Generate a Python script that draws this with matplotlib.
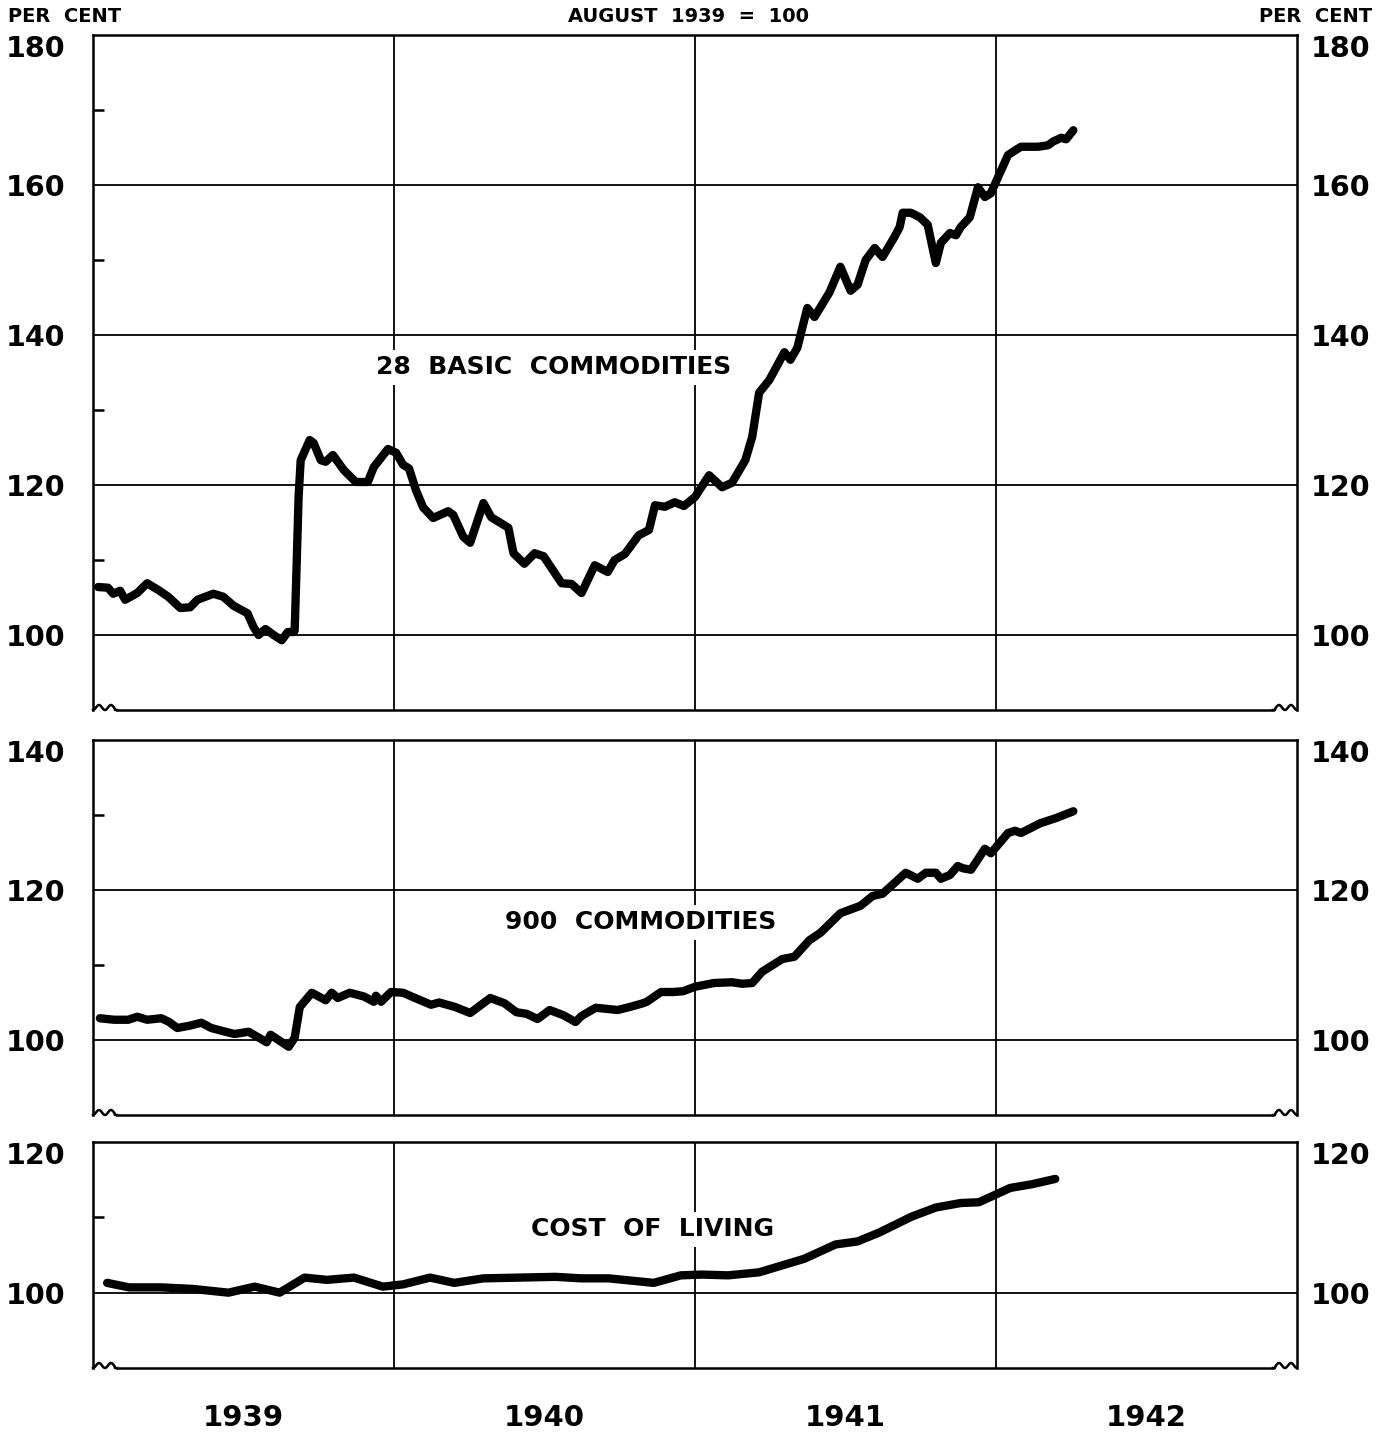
import matplotlib
matplotlib.use("Agg")
import matplotlib.pyplot as plt
import numpy as np

plt.rcParams['font.family'] = ['DejaVu Sans']
plt.rcParams['font.weight'] = 'bold'

# ---------------- data (years since Jan 1939, index values, Aug 1939 = 100) ----
basic_t = [0.017, 0.050, 0.067, 0.090, 0.107, 0.147, 0.180, 0.217, 0.250, 0.290,
           0.323, 0.347, 0.400, 0.433, 0.467, 0.513, 0.533, 0.550, 0.573, 0.600,
           0.627, 0.647, 0.667, 0.670, 0.677, 0.683, 0.690, 0.720, 0.733, 0.757,
           0.773, 0.797, 0.833, 0.873, 0.913, 0.933, 0.980, 1.007, 1.030, 1.050,
           1.073, 1.097, 1.130, 1.180, 1.197, 1.230, 1.253, 1.297, 1.323, 1.380,
           1.397, 1.433, 1.467, 1.497, 1.557, 1.590, 1.623, 1.667, 1.710, 1.733,
           1.767, 1.813, 1.847, 1.867, 1.900, 1.933, 1.963, 2.000, 2.047, 2.090,
           2.123, 2.167, 2.190, 2.213, 2.247, 2.297, 2.317, 2.340, 2.373, 2.397,
           2.447, 2.483, 2.517, 2.540, 2.567, 2.597, 2.623, 2.663, 2.680, 2.690,
           2.717, 2.747, 2.773, 2.800, 2.817, 2.847, 2.867, 2.883, 2.913, 2.940,
           2.963, 2.983, 3.013, 3.040, 3.063, 3.083, 3.140, 3.173, 3.190, 3.217,
           3.233, 3.257]
basic_v = [106.4, 106.3, 105.5, 105.9, 104.7, 105.6, 106.9, 106.0, 105.1, 103.6,
           103.7, 104.7, 105.5, 105.1, 103.9, 102.9, 101.1, 100.0, 100.8, 100.0,
           99.3, 100.4, 100.4, 100.6, 110.0, 118.4, 123.3, 126.0, 125.6, 123.3,
           123.1, 124.0, 122.0, 120.4, 120.4, 122.4, 124.8, 124.3, 122.7, 122.2,
           119.3, 117.0, 115.6, 116.5, 116.0, 113.1, 112.3, 117.6, 115.7, 114.3,
           110.9, 109.5, 110.9, 110.5, 106.9, 106.8, 105.6, 109.3, 108.4, 110.0,
           110.8, 113.3, 114.0, 117.3, 117.1, 117.7, 117.2, 118.4, 121.3, 119.7,
           120.3, 123.3, 126.4, 132.3, 134.0, 137.7, 136.7, 138.3, 143.6, 142.4,
           145.7, 149.1, 145.9, 146.7, 150.0, 151.6, 150.4, 153.1, 154.4, 156.3,
           156.3, 155.7, 154.7, 149.6, 152.3, 153.6, 153.3, 154.4, 155.7, 159.7,
           158.4, 158.9, 161.6, 164.0, 164.6, 165.1, 165.1, 165.3, 165.8, 166.3,
           166.1, 167.3]

all_t = [0.023, 0.070, 0.117, 0.147, 0.180, 0.227, 0.253, 0.280, 0.320, 0.360,
         0.393, 0.430, 0.470, 0.517, 0.577, 0.590, 0.650, 0.670, 0.687, 0.727,
         0.773, 0.793, 0.813, 0.853, 0.900, 0.933, 0.940, 0.957, 0.990, 1.030,
         1.070, 1.123, 1.150, 1.203, 1.253, 1.320, 1.367, 1.407, 1.440, 1.477,
         1.517, 1.563, 1.603, 1.623, 1.670, 1.743, 1.783, 1.827, 1.840, 1.887,
         1.927, 1.960, 2.000, 2.063, 2.123, 2.157, 2.190, 2.223, 2.290, 2.330,
         2.380, 2.417, 2.483, 2.550, 2.590, 2.623, 2.667, 2.700, 2.740, 2.767,
         2.800, 2.817, 2.847, 2.873, 2.890, 2.917, 2.963, 2.983, 3.040, 3.063,
         3.083, 3.147, 3.200, 3.257]
all_v = [102.9, 102.7, 102.7, 103.1, 102.7, 102.9, 102.4, 101.6, 101.9, 102.3,
         101.6, 101.2, 100.8, 101.1, 99.7, 100.7, 99.1, 100.3, 104.4, 106.3,
         105.3, 106.3, 105.6, 106.3, 105.8, 105.1, 105.9, 105.1, 106.4, 106.3,
         105.6, 104.7, 105.0, 104.4, 103.6, 105.6, 104.9, 103.7, 103.5, 102.8,
         104.0, 103.3, 102.4, 103.2, 104.3, 104.0, 104.4, 104.9, 105.1, 106.4,
         106.4, 106.5, 107.1, 107.6, 107.7, 107.5, 107.6, 109.1, 110.8, 111.1,
         113.3, 114.3, 116.9, 117.9, 119.2, 119.5, 121.1, 122.3, 121.5, 122.3,
         122.3, 121.5, 122.0, 123.2, 122.9, 122.7, 125.5, 124.9, 127.6, 127.9,
         127.6, 128.9, 129.6, 130.5]

col_t = [0.047, 0.120, 0.227, 0.330, 0.450, 0.537, 0.620, 0.703, 0.777, 0.867,
         0.963, 1.030, 1.120, 1.200, 1.297, 1.417, 1.537, 1.623, 1.713, 1.863,
         1.953, 2.023, 2.110, 2.213, 2.363, 2.467, 2.540, 2.613, 2.720, 2.800,
         2.883, 2.943, 3.047, 3.120, 3.197]
col_v = [101.3, 100.7, 100.7, 100.5, 100.0, 100.8, 100.0, 102.0, 101.7, 102.0,
         100.8, 101.1, 102.0, 101.3, 101.9, 102.0, 102.1, 101.9, 101.9, 101.3,
         102.3, 102.4, 102.3, 102.7, 104.5, 106.4, 106.8, 108.0, 110.1, 111.3,
         111.9, 112.0, 113.9, 114.4, 115.1]

years = [1939, 1940, 1941, 1942]
series_labels = ["28  BASIC  COMMODITIES", "900  COMMODITIES", "COST  OF  LIVING"]

# ---------------- figure -------------------------------------------------------
W, H = 1393, 1433
fig = plt.figure(figsize=(W / 100, H / 100), dpi=100)

left = 93 / W
width = (1297 - 93) / W
panels = [  # (top px, bottom px, ymin, ymax, major ticks, minor ticks)
    (35, 710, 90, 180, [100, 120, 140, 160, 180], [110, 130, 150, 170]),
    (740, 1115, 90, 140, [100, 120, 140], [110, 130]),
    (1142, 1368, 90, 120, [100, 120], [110]),
]
series = [(basic_t, basic_v), (all_t, all_v), (col_t, col_v)]
label_pos = [(1940.53, 135.7), (1940.82, 115.7), (1940.86, 108.4)]

axes = []
for i, (top, bot, y0, y1, majors, minors) in enumerate(panels):
    ax = fig.add_axes([left, 1 - bot / H, width, (bot - top) / H])
    axes.append(ax)
    ax.set_xlim(1939, 1943)
    ax.set_ylim(y0, y1)
    ax.set_yticks(majors)
    ax.set_yticks(minors, minor=True)
    ax.set_yticklabels([str(m) for m in majors], fontsize=20.5, fontweight='bold')
    ax.tick_params(axis='y', which='major', length=0, pad=20)
    ax.tick_params(axis='y', which='minor', length=8, width=1.8, direction='in',
                   left=True, right=True)
    ax.set_xticks([1940, 1941, 1942])
    ax.tick_params(axis='x', which='major', length=0, labelbottom=False)
    ax.grid(True, which='major', color='black', linewidth=1.3)
    for s in ax.spines.values():
        s.set_linewidth(1.8)
    ax.spines['bottom'].set_visible(False)

    # right-hand labels
    axr = ax.twinx()
    axr.set_ylim(y0, y1)
    axr.set_yticks(majors)
    axr.set_yticklabels([str(m) for m in majors], fontsize=20.5, fontweight='bold')
    axr.tick_params(axis='y', length=0, pad=10)
    for s in axr.spines.values():
        s.set_visible(False)

    # top label of each panel sits just below the top edge
    ax.get_yticklabels()[-1].set_va('top')
    axr.get_yticklabels()[-1].set_va('top')

    # data line
    t, v = series[i]
    ax.plot(np.array(t) + 1939, v, color='black', linewidth=6.0,
            solid_capstyle='round', solid_joinstyle='round', zorder=5)

    # series label
    lx, ly = label_pos[i]
    ax.text(lx, ly, series_labels[i], ha='center', va='center', fontsize=18,
            fontweight='bold', zorder=6,
            bbox=dict(facecolor='white', edgecolor='none', pad=4))

    # bottom line with scale-break squiggles
    ax_h = bot - top
    ax_w = 1297 - 93
    sw = 24 / ax_w
    amp = 5 / ax_h
    xs = np.linspace(0, sw, 60)
    ys = amp * 0.5 * (1 - np.cos(2 * np.pi * xs / (sw / 2))) * (xs < sw * 0.9)
    kw = dict(transform=ax.transAxes, color='black', linewidth=1.8,
              clip_on=False, zorder=7)
    ax.plot(xs, ys, **kw)
    ax.plot(1 - xs, ys, **kw)
    ax.plot([sw, 1 - sw], [0, 0], **kw)

# year labels on bottom panel
axb = axes[-1]
axb.set_xticks([y + 0.5 for y in years], minor=True)
axb.set_xticklabels([str(y) for y in years], minor=True, fontsize=21,
                    fontweight='bold')
axb.tick_params(axis='x', which='minor', length=0, pad=26)

# header texts
fig.text(8 / W, 1 - 17 / H, "PER  CENT", ha='left', va='center', fontsize=14,
         fontweight='bold')
fig.text(1372 / W, 1 - 17 / H, "PER  CENT", ha='right', va='center', fontsize=14,
         fontweight='bold')
fig.text(688 / W, 1 - 17 / H, "AUGUST  1939  =  100", ha='center', va='center',
         fontsize=14, fontweight='bold')

fig.savefig("out.png", dpi=100)
